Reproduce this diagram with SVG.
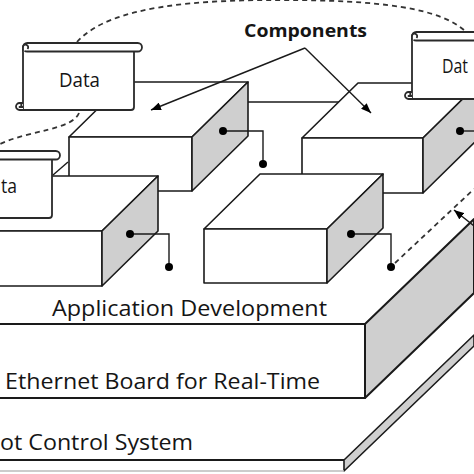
<svg xmlns="http://www.w3.org/2000/svg" width="474" height="474" viewBox="0 0 474 474">
<style>
.w{fill:#fff;stroke:#1a1a1a;stroke-width:1.6;stroke-linejoin:round}
.g{fill:#cfcfcf;stroke:#1a1a1a;stroke-width:1.6;stroke-linejoin:round}
.ln{fill:none;stroke:#1a1a1a;stroke-width:1.6}
.sl{fill:none;stroke:#1a1a1a;stroke-width:2}
.s{fill:#fff;stroke:#2a2a2a;stroke-width:1.8;stroke-linejoin:round}
.d{fill:none;stroke:#333;stroke-width:1.8;stroke-dasharray:5 4}
.c{fill:none;stroke:#1a1a1a;stroke-width:1.4}
.dot{fill:#000}
.t{font-family:"Open Sans","Noto Sans","DejaVu Sans",sans-serif;fill:#151515}
</style>
<defs>
<marker id="ah" viewBox="0 0 10 8" refX="10" refY="4" markerWidth="10" markerHeight="8" markerUnits="userSpaceOnUse" orient="auto"><path d="M0,0 L10,4 L0,8 Z" fill="#000"/></marker>
<g id="scroll">
 <path class="s" d="M0,6 V67 H108 Q111,67 111,64 V6"/>
 <rect class="s" x="0" y="0" width="119" height="8.5" rx="4.25"/>
 <path class="s" d="M0,8.5 V4.25 A2.6,2.6 0 1 1 4.5,6"/>
 <path class="s" d="M0,60 H-3.5 A3.5,3.5 0 0 0 -3.5,67 H0 M-3.5,60 A2,2 0 0 1 -3.5,64 H0"/>
</g>
</defs>

<g id="slab-robot">
 <polygon class="g" points="344,460 474,335 474,346 344,471"/>
 <path class="sl" d="M-2,460 H344"/>
 <path d="M-2,471 H344" fill="none" stroke="#bbb" stroke-width="1.5"/>
 <text class="t" x="0" y="450" font-size="22.5" textLength="193" lengthAdjust="spacingAndGlyphs">ot Control System</text>
</g>

<g id="slab-ethernet">
 <rect class="w" x="-3" y="324" width="368" height="74" style="stroke-width:2"/>
 <polygon class="g" points="365,324 474,219 474,293 365,398" style="stroke-width:2"/>
 <text class="t" x="5" y="389" font-size="22.5" textLength="315" lengthAdjust="spacingAndGlyphs">Ethernet Board for Real-Time</text>
 <text class="t" x="52" y="316" font-size="22.5" textLength="275" lengthAdjust="spacingAndGlyphs">Application Development</text>
</g>

<g id="back-edge">
 <path class="ln" d="M248,102 H340"/>
</g>

<g id="box-a">
 <polygon class="w" points="69,137 192,137 248,82 125,82"/>
 <rect class="w" x="69" y="137" width="123" height="54"/>
 <polygon class="g" points="192,137 248,82 248,136 192,191"/>
</g>

<g id="box-c">
 <polygon class="w" points="302,138 423,138 479,83 358,83"/>
 <rect class="w" x="302" y="138" width="121" height="55"/>
 <polygon class="g" points="423,138 479,83 479,138 423,193"/>
</g>

<g id="data-1">
 <use href="#scroll" transform="translate(23,43)"/>
 <text class="t" x="59" y="87" font-size="20" textLength="41" lengthAdjust="spacingAndGlyphs">Data</text>
</g>

<g id="data-3">
 <use href="#scroll" transform="translate(412,32)"/>
 <text class="t" x="442" y="73" font-size="20" textLength="26" lengthAdjust="spacingAndGlyphs">Dat</text>
</g>

<g id="box-b">
 <polygon class="w" points="-30,231 102,231 158,176 26,176"/>
 <rect class="w" x="-30" y="231" width="132" height="55"/>
 <polygon class="g" points="102,231 158,176 158,231 102,286"/>
</g>

<g id="box-d">
 <polygon class="w" points="204,229 327,229 383,174 260,174"/>
 <rect class="w" x="204" y="229" width="123" height="54"/>
 <polygon class="g" points="327,229 383,174 383,228 327,283"/>
</g>

<g id="data-2">
 <use href="#scroll" transform="translate(-59,151)"/>
 <text class="t" x="1" y="193" font-size="20" textLength="16" lengthAdjust="spacingAndGlyphs">ta</text>
</g>

<g id="label-components">
 <text class="t" x="244" y="37" font-size="17.5" font-weight="bold" textLength="123" lengthAdjust="spacingAndGlyphs">Components</text>
</g>

<g id="connectors">
 <path class="c" d="M53,175 L68,162"/>
 <path class="c" d="M223,131 H263 V164"/>
 <circle class="dot" cx="223" cy="131" r="4"/>
 <circle class="dot" cx="263" cy="164" r="4"/>
 <path class="c" d="M460,131 H475"/>
 <circle class="dot" cx="460" cy="131" r="4"/>
 <path class="c" d="M130,234 H169 V267"/>
 <circle class="dot" cx="130" cy="234" r="4"/>
 <circle class="dot" cx="169" cy="267" r="4"/>
 <path class="c" d="M351,234 H391 V267"/>
 <circle class="dot" cx="351" cy="234" r="4"/>
 <circle class="dot" cx="391" cy="267" r="4"/>
 <path class="c" d="M305,48 L151,110" marker-end="url(#ah)"/>
 <path class="c" d="M305,48 L371,113" marker-end="url(#ah)"/>
 <path class="d" d="M77,42 C110,5 200,0 280,0 C380,0 440,8 465,31"/>
 <path class="d" d="M79,113 C72,130 30,130 0,144"/>
 <path class="d" d="M395,263 L474,189"/>
 <path class="c" d="M474,226 L454,210" marker-end="url(#ah)"/>
</g>
</svg>
